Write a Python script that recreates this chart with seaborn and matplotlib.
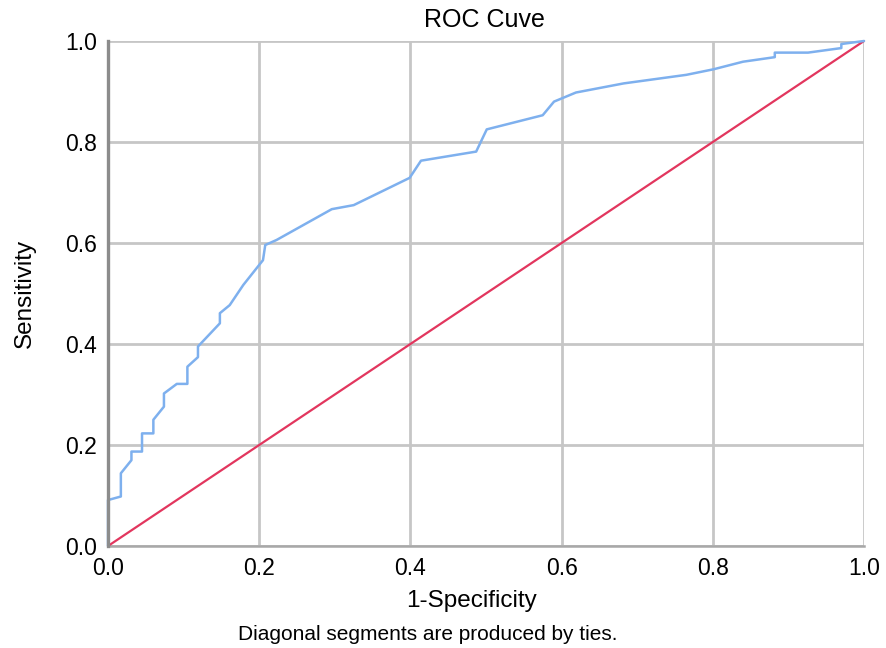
import matplotlib
matplotlib.use("Agg")
import matplotlib.pyplot as plt
import seaborn as sns
import pandas as pd

title = "ROC Cuve"
x_label = "1-Specificity"
y_label = "Sensitivity"
footnote = "Diagonal segments are produced by ties."
tick_values = [0.0, 0.2, 0.4, 0.6, 0.8, 1.0]
tick_labels = ["0.0", "0.2", "0.4", "0.6", "0.8", "1.0"]

fpr = [0, 0, 0.017, 0.017, 0.031, 0.031, 0.045, 0.045, 0.060, 0.060, 0.074, 0.074,
       0.091, 0.105, 0.105, 0.119, 0.119, 0.148, 0.148, 0.161, 0.179, 0.205, 0.208,
       0.223, 0.296, 0.325, 0.399, 0.414, 0.487, 0.501, 0.575, 0.590, 0.619, 0.682,
       0.765, 0.801, 0.840, 0.882, 0.882, 0.926, 0.970, 0.970, 1.0]
tpr = [0, 0.091, 0.098, 0.144, 0.170, 0.187, 0.187, 0.223, 0.223, 0.250, 0.276, 0.302,
       0.321, 0.321, 0.355, 0.374, 0.395, 0.441, 0.461, 0.477, 0.517, 0.566, 0.596,
       0.606, 0.667, 0.675, 0.729, 0.763, 0.781, 0.825, 0.853, 0.880, 0.898, 0.916,
       0.933, 0.944, 0.959, 0.968, 0.977, 0.977, 0.986, 0.994, 1.0]
ref_x = [0.0, 1.0]
ref_y = [0.0, 1.0]

sns.set_theme(style="white")
plt.rcParams['font.family'] = ['Liberation Sans', 'DejaVu Sans']
plt.rcParams['text.color'] = 'black'
plt.rcParams['axes.labelcolor'] = 'black'

fig = plt.figure(figsize=(8.87, 6.48), dpi=100)
ax = fig.add_axes([108/887, (648-546)/648, (864-108)/887, (546-41)/648])

roc = pd.DataFrame({"fpr": fpr, "tpr": tpr})
ref = pd.DataFrame({"x": ref_x, "y": ref_y})

sns.lineplot(data=ref, x="x", y="y", ax=ax, color="#e2365e", linewidth=1.6,
             sort=False, estimator=None, zorder=3)
sns.lineplot(data=roc, x="fpr", y="tpr", ax=ax, color="#7eb0ee", linewidth=1.8,
             sort=False, estimator=None, zorder=4)
for l in ax.lines:
    l.set_clip_on(False)

ax.set_xlim(0, 1)
ax.set_ylim(0, 1)
ax.set_xticks(tick_values)
ax.set_xticklabels(tick_labels)
ax.set_yticks(tick_values)
ax.set_yticklabels(tick_labels)
ax.tick_params(axis="both", length=0, labelsize=16.5, pad=8, colors="black")
ax.grid(True, color="#c6c6c6", linewidth=2.0)
ax.set_axisbelow(True)

for side in ["top", "right"]:
    ax.spines[side].set_visible(False)
ax.spines["left"].set_color("#8c8c8c")
ax.spines["left"].set_linewidth(2.4)
ax.spines["bottom"].set_color("#a8a8a8")
ax.spines["bottom"].set_linewidth(1.8)
ax.spines["left"].set_zorder(5)

ax.set_xlabel(x_label, fontsize=17.5)
ax.set_ylabel(y_label, fontsize=17.5)
ax.xaxis.set_label_coords((472-108)/756, (546-601)/505)
ax.yaxis.set_label_coords((25-108)/756, 0.5)
ax.xaxis.label.set_va("center")
ax.yaxis.label.set_va("center")
fig.text(484/887, 1 - 20/648, title, ha="center", va="center", fontsize=18)
fig.text(428/887, 1 - 635/648, footnote, ha="center", va="center", fontsize=15)

fig.savefig("out.png", dpi=100)
